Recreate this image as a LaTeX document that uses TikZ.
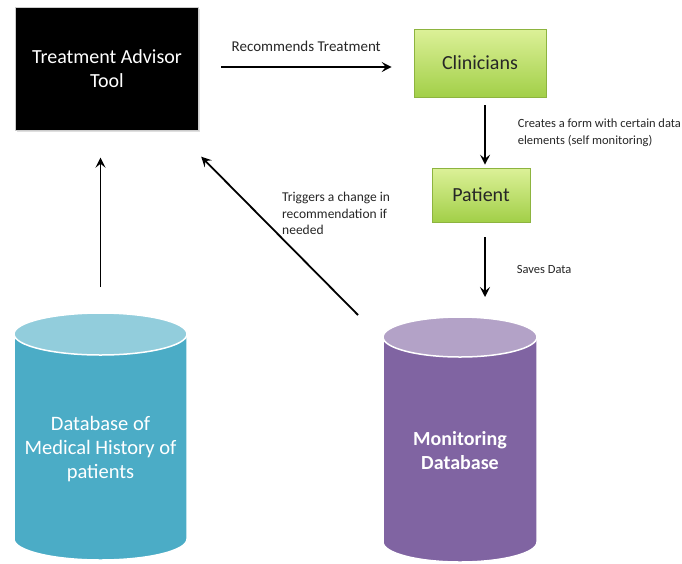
\documentclass[tikz,border=0pt]{standalone}
\usepackage{fontspec}
\setmainfont{Carlito}
\usepackage{tikz}
\usetikzlibrary{arrows.meta,shadows}

\definecolor{aquabody}{HTML}{4BACC6}
\definecolor{aquatop}{HTML}{92CDDC}
\definecolor{purplebody}{HTML}{8064A2}
\definecolor{purpletop}{HTML}{B3A2C7}
\definecolor{limetop}{HTML}{DCF198}
\definecolor{limebottom}{HTML}{A2CF48}
\definecolor{limeline}{HTML}{8DB43F}
\definecolor{labelgray}{HTML}{262626}

\begin{document}
\begin{tikzpicture}[x=1pt, y=-1pt,
	flow/.style={line width=1.8pt, -{Stealth[length=10pt,width=10pt,inset=4pt]}},
	greenbox/.style={draw=limeline, line width=0.6pt, top color=limetop, bottom color=limebottom,
		font=\fontsize{20}{24}\selectfont, text=black!85},
	dbside/.style={draw=white, line width=1.5pt},
	dbtext/.style={text=white, align=center, font=\fontsize{20.5}{24}\selectfont},
	smalltext/.style={font=\fontsize{13.5}{16.5}\selectfont, text=labelgray, align=left, inner sep=0pt}]
	\useasboundingbox (0,0) rectangle (682,563);
	% boxes
	\node[fill=black, draw=gray!40, text=white, align=center, minimum width=183pt, minimum height=123pt,
		font=\fontsize{20}{24}\selectfont, drop shadow={opacity=0.25, shadow xshift=1.5pt, shadow yshift=-1.5pt}]
		(tat) at (107,69) {Treatment Advisor\\Tool};
	\node[greenbox, minimum width=132pt, minimum height=68pt] (clin) at (480,63) {Clinicians};
	\node[greenbox, minimum width=98pt, minimum height=54pt] (pat) at (481,195) {Patient};
	% databases
	\filldraw[dbside, fill=aquabody] (14,334) -- (14,539) arc[start angle=180, end angle=0, x radius=86.5, y radius=21] -- (187,334) -- cycle;
	\filldraw[dbside, fill=aquatop] (100.5,334) ellipse[x radius=86.5, y radius=21];
	\coordinate (histtop) at (100.5,313);
	\node[dbtext] (hist) at (100.5,449) {Database of\\Medical History of\\patients};
	\filldraw[dbside, fill=purplebody] (383,337) -- (383,542) arc[start angle=180, end angle=0, x radius=77, y radius=20] -- (537,337) -- cycle;
	\filldraw[dbside, fill=purpletop] (460,337) ellipse[x radius=77, y radius=20];
	\coordinate (montop) at (460,317);
	\node[dbtext, font=\fontsize{20}{24}\selectfont\bfseries] (mon) at (460,451) {Monitoring\\Database};
	% arrows
	\draw[flow, shorten <=22.5pt, shorten >=22pt] ([yshift=2pt]tat.east) -- ([yshift=2pt]tat.east -| clin.west)
		node[midway, above=14pt, smalltext, font=\fontsize{15}{18}\selectfont] (rec) {Recommends Treatment};
	\draw[flow, shorten <=8pt, shorten >=3pt] ([xshift=5pt]clin.south) -- ([xshift=5pt]clin.south |- pat.north)
		node[midway, right=32pt, smalltext, font=\fontsize{12.5}{17}\selectfont] (form) {Creates a form with certain data\\elements (self monitoring)};
	\draw[flow, shorten <=15pt, shorten >=20pt] ([xshift=4pt]pat.south) -- ([xshift=4pt]pat.south |- montop)
		node[midway, right=31pt, smalltext, font=\fontsize{12.5}{17}\selectfont] (save) {Saves Data};
	\draw[flow, shorten <=26pt, shorten >=27pt] (histtop) -- (histtop |- tat.south);
	\draw[flow] ([xshift=-102pt, yshift=2pt]montop) -- ([xshift=2.5pt, yshift=-26pt]tat.south east);
	\node[smalltext, anchor=west] (trig) at (282,213.5) {Triggers a change in\\recommendation if\\needed};
\end{tikzpicture}
\end{document}
